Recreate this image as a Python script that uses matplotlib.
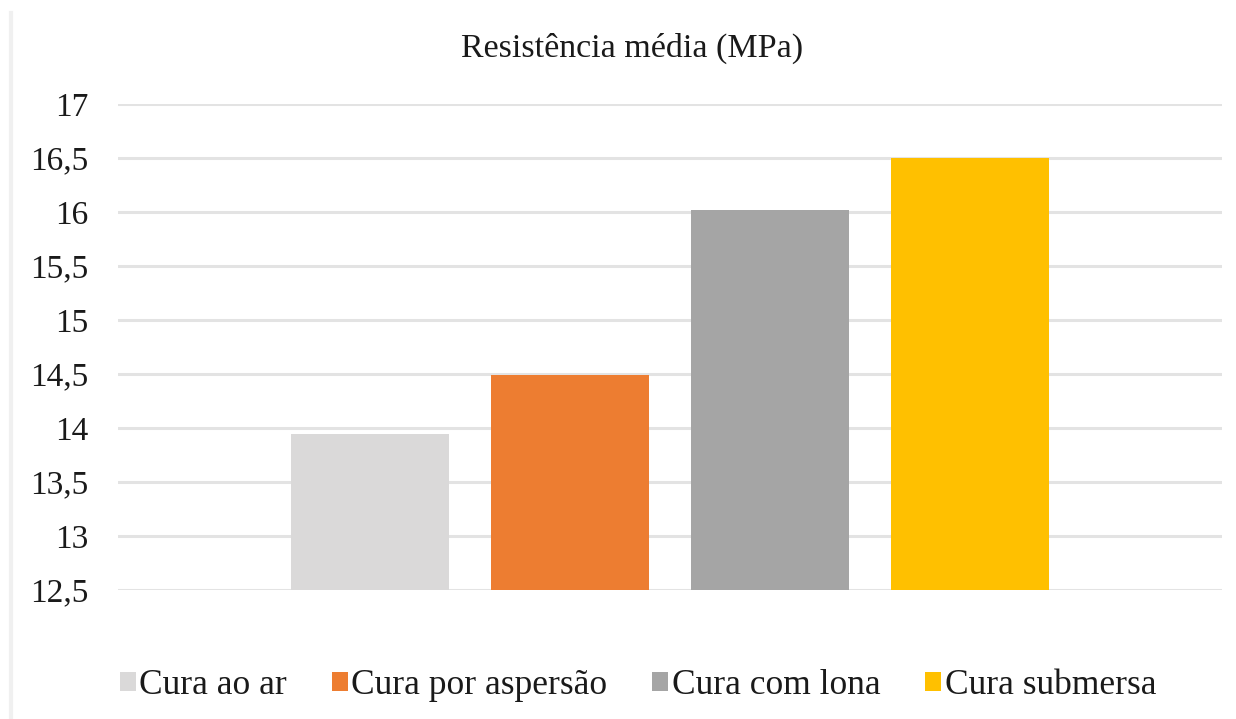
import matplotlib.pyplot as plt
from matplotlib.lines import Line2D
import numpy as np

plt.rcParams['font.family'] = ['Liberation Serif', 'DejaVu Serif']

series = ['Cura ao ar', 'Cura por aspersão', 'Cura com lona', 'Cura submersa']
resistencia = [13.94, 14.49, 16.02, 16.50]
cores = ['#DAD9D9', '#ED7D31', '#A5A5A5', '#FFC000']
yticks = [12.5, 13, 13.5, 14, 14.5, 15, 15.5, 16, 16.5, 17]
ytick_labels = ['12,5', '13', '13,5', '14', '14,5', '15', '15,5', '16', '16,5', '17']

fig = plt.figure(figsize=(12.36, 7.19), dpi=100)
ax = fig.add_axes([118 / 1236, 1 - 590 / 719, 1104 / 1236, 486 / 719])

step = 0.181
width = 0.143
offsets = (np.arange(len(series)) - 1.5) * step
for off, val, cor, nome in zip(offsets, resistencia, cores, series):
    ax.bar(off, val - 12.5, bottom=12.5, width=width, color=cor, label=nome, zorder=3)

ax.set_xlim(-0.5, 0.5)
ax.set_ylim(12.5, 17)
ax.set_yticks(yticks)
ax.set_yticklabels(ytick_labels, fontsize=24, color='#1a1a1a')
ax.set_xticks([])
ax.tick_params(axis='y', length=0, pad=21)
ax.grid(axis='y', color='#E3E3E3', linewidth=2.2, zorder=0)
for s in ax.spines.values():
    s.set_visible(False)

fig.text(632 / 1236, 1 - 48 / 719, 'Resistência média (MPa)', ha='center', va='center',
         fontsize=24.5, color='#1a1a1a')

fig.legend(loc='center', bbox_to_anchor=(638 / 1236, 1 - 686 / 719), ncol=4,
           frameon=False, fontsize=25.5, handlelength=0.45, handleheight=0.45,
           handletextpad=0.1, columnspacing=1.27, labelcolor='#1a1a1a')

fig.add_artist(Line2D([11 / 1236, 11 / 1236], [0, 1 - 13 / 719], color='#F0F0F0', linewidth=3))

fig.savefig('out.png', dpi=100)
